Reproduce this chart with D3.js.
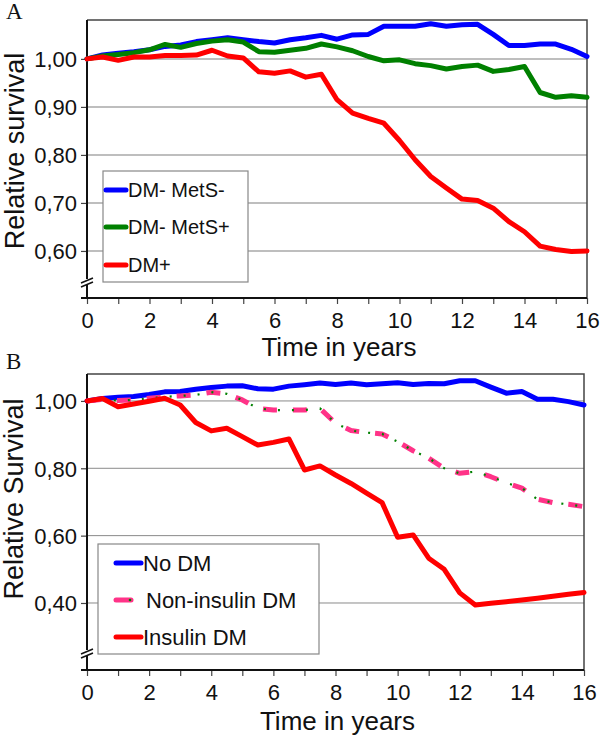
<!DOCTYPE html>
<html><head><meta charset="utf-8">
<script src="https://cdn.jsdelivr.net/npm/d3@7"></script>
<style>body{margin:0;background:#fff}svg{display:block}</style>
</head><body>
<script>
// ---------- DATA ----------
const years = [0,0.5,1,1.5,2,2.5,3,3.5,4,4.5,5,5.5,6,6.5,7,7.5,8,8.5,9,9.5,10,10.5,11,11.5,12,12.5,13,13.5,14,14.5,15,15.5,16];
const xTicks = [0,2,4,6,8,10,12,14,16];
const xMinorTicks = [0,1,2,3,4,5,6,7,8,9,10,11,12,13,14,15,16];

// Panel A
const aTicks = [0.60,0.70,0.80,0.90,1.00];
const aNames = ["DM- MetS-","DM- MetS+","DM+"];
const aMetSneg = [1.000,1.008,1.012,1.015,1.019,1.026,1.029,1.036,1.040,1.044,1.040,1.036,1.033,1.040,1.044,1.049,1.041,1.050,1.051,1.068,1.068,1.068,1.073,1.068,1.071,1.072,1.051,1.028,1.028,1.031,1.031,1.020,1.005];
const aMetSpos = [1.000,1.006,1.009,1.013,1.019,1.030,1.024,1.032,1.037,1.040,1.035,1.015,1.014,1.018,1.022,1.031,1.025,1.017,1.005,0.996,0.998,0.990,0.986,0.979,0.984,0.987,0.974,0.978,0.984,0.930,0.920,0.923,0.920];
const aDMpos = [1.000,1.004,0.997,1.004,1.004,1.007,1.007,1.008,1.018,1.006,1.002,0.973,0.970,0.975,0.962,0.968,0.915,0.887,0.876,0.866,0.830,0.790,0.755,0.731,0.708,0.705,0.689,0.661,0.640,0.610,0.603,0.599,0.600];

// Panel B
const bTicks = [0.40,0.60,0.80,1.00];
const bNames = ["No DM","Non-insulin DM","Insulin DM"];
const bNoDM = [1.000,1.007,1.011,1.013,1.019,1.027,1.028,1.035,1.040,1.044,1.045,1.036,1.035,1.044,1.048,1.053,1.049,1.053,1.048,1.051,1.054,1.049,1.052,1.051,1.060,1.060,1.041,1.023,1.028,1.005,1.005,0.998,0.988];
const bNonIns = [1.000,1.005,1.001,1.003,1.008,1.012,1.015,1.018,1.026,1.021,1.003,0.978,0.973,0.973,0.973,0.978,0.934,0.912,0.906,0.902,0.879,0.852,0.830,0.800,0.785,0.790,0.775,0.757,0.741,0.708,0.698,0.693,0.686];
const bIns = [1.000,1.007,0.983,0.991,0.999,1.008,0.988,0.936,0.911,0.919,0.894,0.869,0.877,0.887,0.795,0.807,0.780,0.755,0.726,0.698,0.595,0.602,0.533,0.500,0.430,0.394,0.399,0.404,0.409,0.414,0.420,0.426,0.431];

// ---------- DRAW ----------
const W = 600, H = 737;
const svg = d3.select("body").append("svg").attr("width", W).attr("height", H);
const SANS = "Arial, 'Liberation Sans', Helvetica, sans-serif";
const SERIF = "'Times New Roman', 'Liberation Serif', serif";
const fmt = d => d.toFixed(2).replace(".", ",");

function panel(cfg) {
  const g = svg.append("g");
  const x = d3.scaleLinear().domain([0,16]).range([cfg.left, cfg.right]);
  const y = d3.scaleLinear().domain(cfg.ydom).range([cfg.bottom, cfg.top]);

  // gridlines
  g.append("g").selectAll("line").data(cfg.ticks).join("line")
    .attr("x1", cfg.left).attr("x2", cfg.right)
    .attr("y1", d => y(d)).attr("y2", d => y(d))
    .attr("stroke", cfg.gridColor).attr("stroke-width", cfg.gridWidth);

  // frame top/right
  g.append("path")
    .attr("d", `M${cfg.left},${cfg.top}H${cfg.right}V${cfg.bottom}`)
    .attr("fill", "none").attr("stroke", "#444").attr("stroke-width", 1.5);

  // y axis
  const yAxis = d3.axisLeft(y).tickValues(cfg.ticks).tickFormat(fmt).tickSize(6).tickPadding(4);
  const ya = g.append("g").attr("transform", `translate(${cfg.left},0)`).call(yAxis);
  ya.select(".domain").remove();
  ya.selectAll(".tick line").attr("stroke", "#444").attr("stroke-width", 1.2);
  ya.selectAll(".tick text").attr("font-family", SANS).attr("font-size", 22).attr("fill", "#111").attr("dy", "0.36em");

  // x axis
  const xAxis = d3.axisBottom(x).tickValues(xMinorTicks).tickFormat(d => xTicks.includes(d) ? d : "").tickSize(6).tickPadding(5);
  const xa = g.append("g").attr("transform", `translate(0,${cfg.bottom})`).call(xAxis);
  xa.select(".domain").remove();
  xa.selectAll(".tick line").attr("stroke", "#444").attr("stroke-width", 1.2);
  xa.selectAll(".tick text").attr("font-family", SANS).attr("font-size", 22).attr("fill", "#111").attr("dy", "0.85em");

  // axis lines (left and bottom)
  g.append("path")
    .attr("d", `M${cfg.left},${cfg.top}V${cfg.bottom}M${cfg.left-6},${cfg.bottom}H${cfg.right}`)
    .attr("fill", "none").attr("stroke", "#111").attr("stroke-width", 2);

  // axis break marker
  const by = cfg.breakY;
  g.append("rect").attr("x", cfg.left-3).attr("y", by-3).attr("width", 6).attr("height", 5).attr("fill", "#fff");
  [[-2],[2]].forEach(([o]) => {
    g.append("line").attr("x1", cfg.left-6).attr("y1", by+o+3).attr("x2", cfg.left+6).attr("y2", by+o-2)
      .attr("stroke", "#111").attr("stroke-width", 1.5);
  });

  // lines
  const line = d3.line().x((d,i) => x(years[i])).y(d => y(d));
  cfg.series.forEach(s => {
    g.append("path").datum(s.values).attr("d", line)
      .attr("fill", "none").attr("stroke", s.color).attr("stroke-width", 5)
      .attr("stroke-linejoin", "round").attr("stroke-linecap", s.dash ? "butt" : "round")
      .attr("stroke-dasharray", s.dash || null);
    if (s.overlay) {
      g.append("path").datum(s.values).attr("d", line)
        .attr("fill", "none").attr("stroke", s.overlay).attr("stroke-width", 2.2)
        .attr("stroke-dasharray", "2,12").attr("stroke-dashoffset", 1);
    }
  });

  // legend
  const L = cfg.legend;
  const lg = g.append("g");
  lg.append("rect").attr("x", L.x).attr("y", L.y).attr("width", L.w).attr("height", L.h)
    .attr("fill", "#fff").attr("stroke", "#888").attr("stroke-width", 1.2);
  cfg.series.forEach((s, i) => {
    const yy = L.rows[i];
    const x2 = s.dash ? L.sx1 - 10 : L.sx1;
    lg.append("line").attr("x1", L.sx0).attr("x2", x2).attr("y1", yy).attr("y2", yy)
      .attr("stroke", s.color).attr("stroke-width", 5).attr("stroke-linecap", "round");
    if (s.overlay) {
      lg.append("circle").attr("cx", x2 - 1).attr("cy", yy).attr("r", 1.3).attr("fill", s.overlay);
    }
    lg.append("text").attr("x", s.dash ? L.tx + 3 : L.tx).attr("y", yy).attr("dy", "0.36em")
      .attr("font-family", SANS).attr("font-size", L.fs).attr("fill", "#111").text(s.name);
  });

  // titles
  g.append("text").attr("x", (cfg.left + cfg.right) / 2 + 2).attr("y", cfg.xTitleY)
    .attr("text-anchor", "middle").attr("font-family", SANS).attr("font-size", 26).attr("fill", "#111")
    .text("Time in years");
  g.append("text").attr("transform", `translate(${cfg.yTitleX},${cfg.yTitleY}) rotate(-90)`)
    .attr("text-anchor", "middle").attr("font-family", SANS).attr("font-size", 27).attr("fill", "#111")
    .text(cfg.yTitle);
  g.append("text").attr("x", 6).attr("y", cfg.letterY)
    .attr("font-family", SERIF).attr("font-size", 23).attr("fill", "#111").text(cfg.letter);
}

panel({
  left: 87, right: 587, top: 20, bottom: 298, ydom: [0.502, 1.081], ticks: aTicks,
  gridColor: "#a8a8a8", gridWidth: 1.5, breakY: 282,
  series: [
    {name: aNames[0], values: aMetSneg, color: "#0000ff"},
    {name: aNames[1], values: aMetSpos, color: "#008000"},
    {name: aNames[2], values: aDMpos, color: "#ff0000"}
  ],
  legend: {x: 103, y: 171, w: 145, h: 111, rows: [190, 227, 265], sx0: 106, sx1: 126, tx: 128, fs: 20},
  xTitleY: 356, yTitle: "Relative survival", yTitleX: 24, yTitleY: 151, letter: "A", letterY: 19
});

panel({
  left: 87, right: 584, top: 374, bottom: 670, ydom: [0.201, 1.080], ticks: bTicks,
  gridColor: "#8a8a8a", gridWidth: 1, breakY: 653,
  series: [
    {name: bNames[0], values: bNoDM, color: "#0000ff"},
    {name: bNames[1], values: bNonIns, color: "#ff3388", dash: "14,16", overlay: "#008000"},
    {name: bNames[2], values: bIns, color: "#ff0000"}
  ],
  legend: {x: 98, y: 544, w: 221, h: 110, rows: [563, 600, 637], sx0: 116, sx1: 141, tx: 143, fs: 22},
  xTitleY: 730, yTitle: "Relative Survival", yTitleX: 23, yTitleY: 499, letter: "B", letterY: 369
});
</script>
</body></html>
